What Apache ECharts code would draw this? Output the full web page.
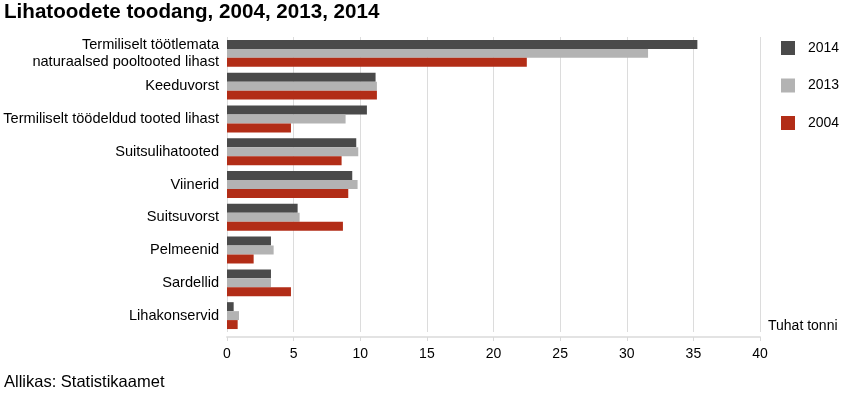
<!DOCTYPE html>
<html>
<head>
<meta charset="utf-8">
<script src="https://cdn.jsdelivr.net/npm/echarts@6/dist/echarts.min.js"></script>
<style>
  html, body { margin: 0; padding: 0; background: #fff; }
  #main { width: 841px; height: 396px; }
</style>
</head>
<body>
<div id="main"></div>
<script>
// andmed
const categories = [
  'Termiliselt töötlemata\nnaturaalsed pooltooted lihast',
  'Keeduvorst',
  'Termiliselt töödeldud tooted lihast',
  'Suitsulihatooted',
  'Viinerid',
  'Suitsuvorst',
  'Pelmeenid',
  'Sardellid',
  'Lihakonservid'
]
const values2014 = [35.3, 11.15, 10.5, 9.7, 9.4, 5.3, 3.3, 3.3, 0.5]
const values2013 = [31.6, 11.25, 8.9, 9.85, 9.8, 5.45, 3.5, 3.3, 0.9]
const values2004 = [22.5, 11.25, 4.8, 8.6, 9.1, 8.7, 2.0, 4.8, 0.8]
const xTicks = [0, 5, 10, 15, 20, 25, 30, 35, 40]

const font = '"Liberation Sans", Arial, sans-serif'

const myChart = echarts.init(document.getElementById('main'))

function barSeries(name, data, color) {
  return {
    name: name,
    type: 'bar',
    data: data,
    barGap: '0%',
    barCategoryGap: '18%',
    itemStyle: { color: color },
    emphasis: { disabled: true }
  }
}

myChart.setOption({
  animation: false,
  backgroundColor: '#fff',
  textStyle: { fontFamily: font },
  title: {
    text: 'Lihatoodete toodang, 2004, 2013, 2014',
    left: 4,
    top: 2,
    padding: 0,
    textStyle: { fontSize: 20.6, fontWeight: 'bold', color: '#000', fontFamily: font }
  },
  legend: {
    orient: 'vertical',
    left: 776,
    top: 36,
    itemWidth: 14,
    itemHeight: 14,
    itemGap: 23.5,
    icon: 'rect',
    data: ['2014', '2013', '2004'],
    textStyle: { fontSize: 14, color: '#000', fontFamily: font, padding: [0, 0, 0, 8] }
  },
  grid: { left: 227, right: 81, top: 37, bottom: 64, containLabel: false },
  xAxis: {
    type: 'value',
    min: xTicks[0],
    max: xTicks[xTicks.length - 1],
    interval: 5,
    offset: 5,
    axisLine: { show: true, lineStyle: { color: '#e3e3e3', width: 2 } },
    axisTick: { show: true, length: 4, lineStyle: { color: '#d9d9d9' } },
    splitLine: { show: true, lineStyle: { color: '#dcdcdc', width: 1 } },
    axisLabel: { fontSize: 14, color: '#000', margin: 10, fontFamily: font }
  },
  yAxis: {
    type: 'category',
    data: categories,
    inverse: true,
    axisLine: { show: false },
    axisTick: { show: false },
    axisLabel: { fontSize: 14.6, color: '#000', margin: 8, lineHeight: 17, align: 'right', fontFamily: font }
  },
  graphic: [
    {
      type: 'text', left: 768, top: 319,
      style: { text: 'Tuhat tonni', fontSize: 14, fill: '#000', fontFamily: font }
    },
    {
      type: 'text', left: 4, top: 374,
      style: { text: 'Allikas: Statistikaamet', fontSize: 16.5, fill: '#000', fontFamily: font }
    }
  ],
  series: [
    barSeries('2014', values2014, '#4a4a4a'),
    barSeries('2013', values2013, '#b3b3b3'),
    barSeries('2004', values2004, '#b22d17')
  ]
})
</script>
</body>
</html>
